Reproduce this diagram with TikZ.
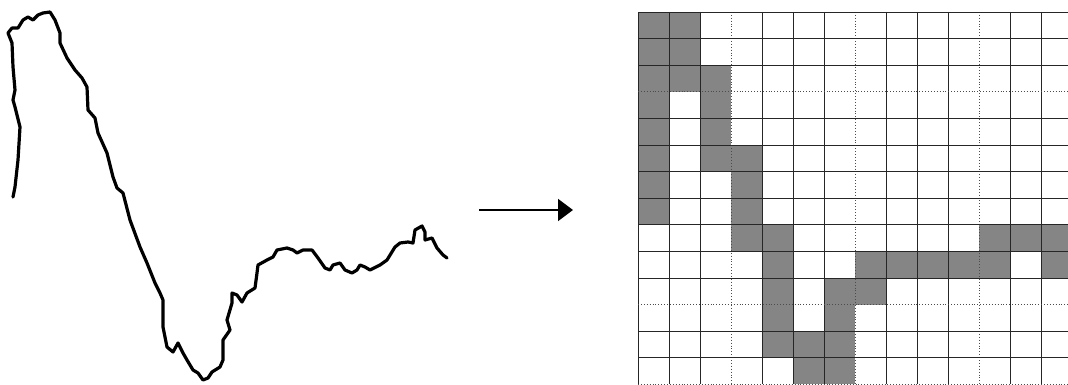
\documentclass[tikz,border=0pt]{standalone}
\usetikzlibrary{arrows.meta}
\begin{document}
\begin{tikzpicture}[x=1pt,y=-1pt,
  trace/.style={line width=3.2pt,line join=round,line cap=round},
  cellfill/.style={fill=black!48},
  gridline/.style={line width=0.9pt,black!85},
  gridweak/.style={line width=0.9pt,black!70,dotted},
  conn/.style={line width=2pt,-{Triangle[length=15pt,width=22pt]}}]
\useasboundingbox (0,0) rectangle (1068,385);

% hand-drawn signal trace
\draw[trace] (13,197) -- (15,187) -- (18,160) -- (20,127) -- (15,107) -- (13,100)
  -- (15,90) -- (13,67) -- (12,43) -- (8,33) -- (12,28) -- (18,28) -- (23,20)
  -- (28,17) -- (33,20) -- (38,15) -- (43,13) -- (50,12) -- (55,20) -- (60,33)
  -- (60,43) -- (67,58) -- (75,70) -- (82,78) -- (87,87) -- (88,110) -- (95,118)
  -- (98,133) -- (107,153) -- (113,177) -- (117,188) -- (123,193) -- (130,220)
  -- (140,247) -- (147,263) -- (155,283) -- (160,293) -- (163,300) -- (163,327)
  -- (167,347) -- (173,352) -- (178,343) -- (183,353) -- (187,360) -- (193,370)
  -- (198,373) -- (203,380) -- (208,378) -- (212,372) -- (220,367) -- (223,360)
  -- (223,340) -- (230,330) -- (227,320) -- (232,303) -- (232,293) -- (237,295)
  -- (242,302) -- (247,293) -- (255,288) -- (257,273) -- (258,265) -- (267,260)
  -- (273,257) -- (277,250) -- (287,248) -- (293,250) -- (297,253) -- (303,250)
  -- (312,250) -- (318,258) -- (325,268) -- (330,270) -- (333,265) -- (340,263)
  -- (345,270) -- (352,273) -- (357,270) -- (360,265) -- (365,267) -- (370,270)
  -- (380,265) -- (387,260) -- (395,247) -- (400,243) -- (408,242) -- (413,243)
  -- (415,230) -- (422,226) -- (425,232) -- (425,240) -- (432,238) -- (437,248)
  -- (443,255) -- (447,258);

% conversion arrow
\coordinate (from) at (479,210);
\coordinate (to) at (573,210);
\draw[conn] (from) -- (to);

% occupancy grid: shaded cells (column, row)
\begin{scope}
\clip (600,0) rectangle (1068,385);
\foreach \c/\r in {0/0,1/0,0/1,1/1,0/2,1/2,2/2,0/3,2/3,0/4,2/4,0/5,2/5,3/5,
  0/6,3/6,0/7,3/7,3/8,4/8,11/8,12/8,13/8,4/9,7/9,8/9,9/9,10/9,11/9,13/9,
  4/10,6/10,7/10,4/11,6/11,4/12,5/12,6/12,5/13,6/13}
  \fill[cellfill] (638+31*\c,12+26.6*\r) rectangle ++(31,26.6);
% grid lines
\foreach \i in {0,1,2,4,5,6,8,9,10,12,13}
  \draw[gridline] (638+31*\i,12) -- (638+31*\i,384.4);
\foreach \i in {3,7,11}
  \draw[gridweak] (638+31*\i,12) -- (638+31*\i,384.4);
\foreach \j in {0,1,2,4,5,6,7,8,9,10,12,13}
  \draw[gridline] (638,12+26.6*\j) -- (1072,12+26.6*\j);
\foreach \j in {3,11,14}
  \draw[gridweak] (638,12+26.6*\j) -- (1072,12+26.6*\j);
\end{scope}
\end{tikzpicture}
\end{document}
